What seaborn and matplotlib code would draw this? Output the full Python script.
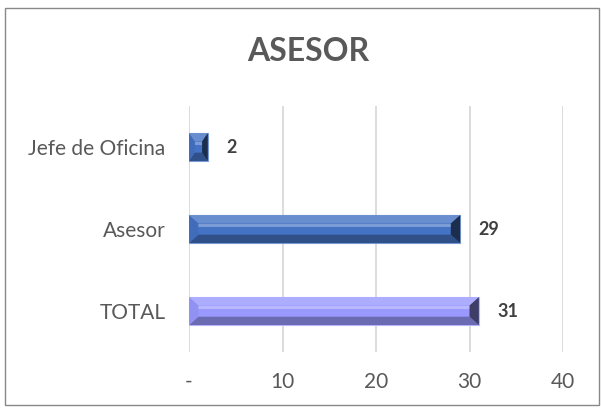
import matplotlib
matplotlib.use("Agg")
import matplotlib.pyplot as plt
import matplotlib.colors as mc
import seaborn as sns
import pandas as pd
from matplotlib.patches import Rectangle, Polygon

categories = ["Jefe de Oficina", "Asesor", "TOTAL"]
values = [2, 29, 31]
bar_colors = ["#4472C4", "#4472C4", "#9999FF"]
tick_values = [0, 10, 20, 30, 40]
tick_labels = ["-", "10", "20", "30", "40"]
title = "ASESOR"

sns.set_theme(style="white")
plt.rcParams["font.family"] = ["Lato", "DejaVu Sans"]

df = pd.DataFrame({"cat": categories, "val": values})

fig = plt.figure(figsize=(6.01, 4.08), dpi=100)
ax = fig.add_axes([0.3145, 0.137, 0.6223, 0.603])

sns.barplot(data=df, y="cat", x="val", hue="cat", palette=bar_colors,
            orient="h", width=0.34, legend=False, ax=ax, saturation=1)


def shade(c, f):
    r, g, b = mc.to_rgb(c)
    if f > 1:
        t = f - 1
        return (r + (1 - r) * t, g + (1 - g) * t, b + (1 - b) * t)
    return (r * f, g * f, b * f)


for i, (p, col) in enumerate(zip(ax.patches, bar_colors)):
    x0, y0 = p.get_x(), p.get_y()
    w, h = p.get_width(), p.get_height()
    p.set_edgecolor(shade(col, 1.3))
    p.set_linewidth(0.8)
    dx = min(1.0, w * 0.3)
    dy = h * 0.3
    top = Polygon([(x0, y0), (x0 + w, y0), (x0 + w - dx, y0 + dy), (x0 + dx, y0 + dy)],
                  closed=True, facecolor=shade(col, 1.2), edgecolor="none", zorder=3)
    mid = Rectangle((x0 + dx, y0 + dy), w - 2 * dx, h * 0.12,
                    facecolor=shade(col, 1.3), edgecolor="none", zorder=3)
    bot = Polygon([(x0, y0 + h), (x0 + w, y0 + h), (x0 + w - dx, y0 + h - dy), (x0 + dx, y0 + h - dy)],
                  closed=True, facecolor=shade(col, 0.7), edgecolor="none", zorder=3)
    right = Polygon([(x0 + w, y0), (x0 + w, y0 + h), (x0 + w - dx, y0 + h - dy), (x0 + w - dx, y0 + dy)],
                    closed=True, facecolor=shade(col, 0.4), edgecolor="none", zorder=3)
    left = Polygon([(x0, y0), (x0, y0 + h), (x0 + dx, y0 + h - dy), (x0 + dx, y0 + dy)],
                   closed=True, facecolor=shade(col, 0.95), edgecolor="none", zorder=3)
    for poly in (top, mid, bot, right, left):
        ax.add_patch(poly)
    ax.text(x0 + w + 2.0, y0 + h / 2, f"{values[i]}",
            va="center", ha="left", fontsize=13, fontweight="bold", color="#404040")

ax.set_xlim(0, 40)
ax.set_ylim(2.5, -0.5)
ax.set_xticks(tick_values)
ax.set_xticklabels(tick_labels)
ax.xaxis.grid(True, color="#D9D9D9", linewidth=1.3)
ax.set_axisbelow(True)
for s in ax.spines.values():
    s.set_visible(False)
ax.tick_params(axis="both", length=0, colors="#595959", labelsize=15)
ax.tick_params(axis="x", pad=14)
ax.tick_params(axis="y", pad=17)
ax.set_xlabel("")
ax.set_ylabel("")

fig.text(0.513, 0.874, title, ha="center", va="center", fontsize=23,
         fontweight="bold", color="#595959")

fig.patches.append(Rectangle((0.009, 0.008), 0.988, 0.972, transform=fig.transFigure,
                             fill=False, edgecolor="#888888", linewidth=1.0))

fig.savefig("out.png", dpi=100)
